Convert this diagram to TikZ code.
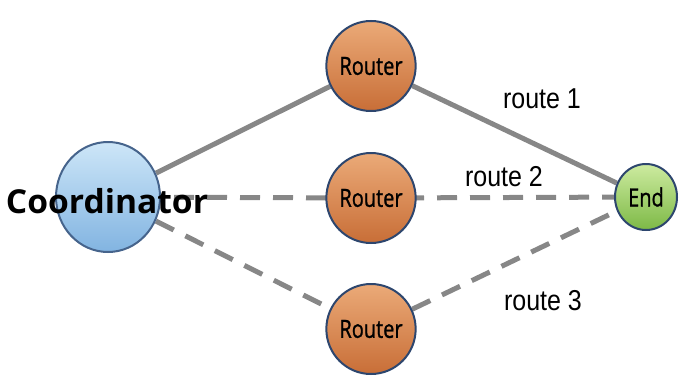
\documentclass[tikz,border=0pt]{standalone}
\usepackage{fontspec}
\usepackage{graphicx}
\usetikzlibrary{shapes.geometric,backgrounds}
\setmainfont{Liberation Sans}
\newfontfamily\nodefont[FakeBold=1.2]{Open Sans}
\newfontfamily\coordfont{Open Sans}
\definecolor{linegray}{RGB}{135,135,135}
\definecolor{rim}{RGB}{45,70,110}
\definecolor{rtop}{RGB}{235,170,120}
\definecolor{rbot}{RGB}{200,110,55}
\definecolor{ctop}{RGB}{205,230,248}
\definecolor{cbot}{RGB}{130,180,225}
\definecolor{crim}{RGB}{70,100,140}
\definecolor{etop}{RGB}{205,235,160}
\definecolor{ebot}{RGB}{125,185,70}
\begin{document}
\begin{tikzpicture}[x=1pt,y=-1pt,
  link/.style={draw=linegray, line width=5pt},
  dlink/.style={link, dash pattern=on 20pt off 13pt},
  router/.style={ellipse, minimum width=88pt, minimum height=90pt, inner sep=0pt, draw=rim, line width=2pt,
    top color=rtop, bottom color=rbot, font=\nodefont\fontsize{20}{20}\selectfont},
  coordn/.style={ellipse, minimum width=104pt, minimum height=110pt, inner sep=0pt, draw=crim, line width=2pt,
    top color=ctop, bottom color=cbot},
  endn/.style={ellipse, minimum width=62pt, minimum height=66pt, inner sep=0pt, draw=rim, line width=2pt,
    top color=etop, bottom color=ebot, font=\nodefont\fontsize{20}{20}\selectfont},
  rlabel/.style={font=\fontsize{25}{25}\selectfont, inner sep=0pt}]
\useasboundingbox (0,0) rectangle (682,380);
\node[coordn] (c) at (108,197) {};
\node[router] (r1) at (371,66) {\scalebox{1}[1.25]{Router}};
\node[router] (r2) at (371,198) {\scalebox{1}[1.25]{Router}};
\node[router] (r3) at (371,329) {\scalebox{1}[1.25]{Router}};
\node[endn] (e) at (646,197) {\scalebox{1}[1.25]{End}};
\begin{scope}[on background layer]
\draw[link] (c) -- (r1);
\draw[dlink] (c.center) -- (r2.center);
\draw[dlink] (c) -- (r3);
\draw[link] (r1) -- (e);
\draw[dlink] (r2.center) -- (e.center);
\draw[dlink] (r3) -- (e);
\end{scope}
\node[font=\coordfont\bfseries\fontsize{30}{30}\selectfont, inner sep=0pt] (ct) at (107,201) {\scalebox{1.12}[1.1]{Coordinator}};
\node[rlabel] (l1) at (542,99) {\scalebox{1}[1.15]{route 1}};
\node[rlabel] (l2) at (504,177) {\scalebox{1}[1.15]{route 2}};
\node[rlabel] (l3) at (543,301) {\scalebox{1}[1.15]{route 3}};
\end{tikzpicture}
\end{document}
